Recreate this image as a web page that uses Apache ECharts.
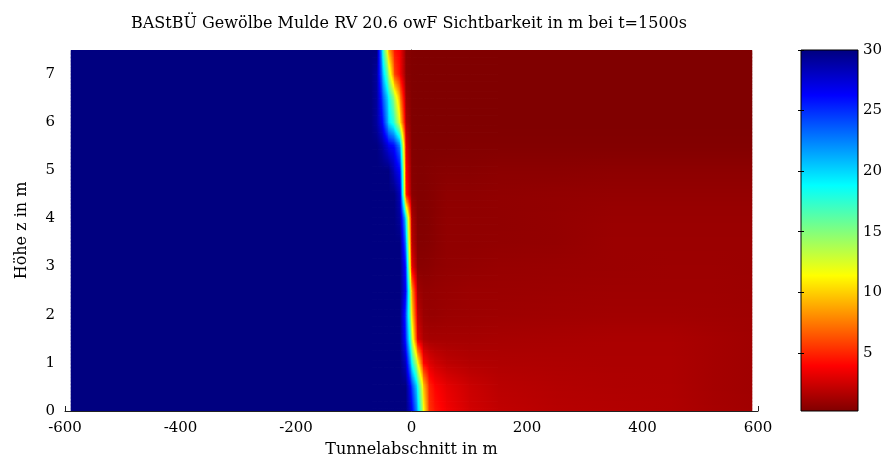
<!DOCTYPE html>
<html><head><meta charset="utf-8">
<script src="https://cdn.jsdelivr.net/npm/echarts@6/dist/echarts.min.js"></script>
<style>html,body{margin:0;padding:0;background:#fff}#c{width:888px;height:464px}</style>
</head><body><div id="c"></div>
<script>
// Tunnel position (m) of each data column
const xPositions = [-590, -70, -60, -50, -40, -30, -20, -10, 0, 10, 20, 30, 40, 60, 100, 150, 250, 350, 450, 520, 590];
// Height (m) of each data row
const zLevels = [0, 0.5, 1, 1.5, 2, 2.5, 3, 3.5, 4, 4.5, 5, 5.5, 6, 6.5, 7, 7.5];
// Visibility (m) per row, one value per column
const sicht_z0_0 = [30,30,30,30,30,30,30,30,27,21,12,5.5,4.5,3.6,2.6,2.1,1.8,1.7,1.6,1.35,1.2];
const sicht_z0_5 = [30,30,30,30,30,30,30,30,25,19,10,5,4,3.2,2.4,1.9,1.7,1.6,1.55,1.3,1.15];
const sicht_z1_0 = [30,30,30,30,30,30,30,28,19,12,4,3,2.5,2.0,1.7,1.6,1.55,1.5,1.5,1.3,1.15];
const sicht_z1_5 = [30,30,30,30,30,30,30,25,14,3,1.5,1.3,1.3,1.3,1.3,1.35,1.4,1.45,1.45,1.3,1.15];
const sicht_z2_0 = [30,30,30,30,30,30,30,24,11,2,1,0.9,0.9,1.0,1.05,1.1,1.15,1.2,1.2,1.15,1.1];
const sicht_z2_5 = [30,30,30,30,30,30,30,26,9,1.2,0.8,0.8,0.85,0.9,1.0,1.0,1.05,1.1,1.1,1.1,1.05];
const sicht_z3_0 = [30,30,30,30,30,30,30,25,3.5,0.5,0.5,0.55,0.65,0.75,0.8,0.9,0.95,1.0,1.05,1.05,1.0];
const sicht_z3_5 = [30,30,30,30,30,30,30,22,2,0.35,0.35,0.4,0.5,0.7,0.7,0.75,0.8,1.0,1.0,1.0,1.0];
const sicht_z4_0 = [30,30,30,30,30,30,29,19,1.5,0.3,0.3,0.35,0.5,0.7,0.7,0.7,0.8,0.95,0.95,0.95,0.95];
const sicht_z4_5 = [30,30,30,30,30,30,28,5,0.5,0.3,0.3,0.35,0.45,0.65,0.65,0.7,0.75,0.8,0.8,0.8,0.8];
const sicht_z5_0 = [30,30,30,30,30,28,26,4,0.4,0.3,0.3,0.35,0.4,0.45,0.45,0.55,0.55,0.6,0.6,0.6,0.6];
const sicht_z5_5 = [30,30,30,29,27,26,22,3,0.3,0.25,0.25,0.25,0.25,0.25,0.3,0.3,0.3,0.3,0.3,0.3,0.3];
const sicht_z6_0 = [30,30,29,26,20,17,11,1.5,0.25,0.2,0.2,0.2,0.2,0.2,0.2,0.2,0.2,0.2,0.2,0.2,0.2];
const sicht_z6_5 = [30,30,29,24,19,14,8,1,0.25,0.2,0.2,0.2,0.2,0.2,0.2,0.2,0.2,0.2,0.2,0.2,0.2];
const sicht_z7_0 = [30,30,29,21,14,6,3.8,0.5,0.25,0.2,0.2,0.2,0.2,0.2,0.2,0.2,0.2,0.2,0.2,0.2,0.2];
const sicht_z7_5 = [30,30,30,18,9,4.5,3.6,0.5,0.25,0.2,0.2,0.2,0.2,0.2,0.2,0.2,0.2,0.2,0.2,0.2,0.2];
const visibilityRows = [sicht_z0_0, sicht_z0_5, sicht_z1_0, sicht_z1_5, sicht_z2_0, sicht_z2_5, sicht_z3_0, sicht_z3_5,
  sicht_z4_0, sicht_z4_5, sicht_z5_0, sicht_z5_5, sicht_z6_0, sicht_z6_5, sicht_z7_0, sicht_z7_5];
// Colour range and tick labels
const colorRange = [0.2, 30];
const colorbarTicks = [5, 10, 15, 20, 25, 30];
const yTicks = [0, 1, 2, 3, 4, 5, 6, 7];
const titleText = 'BAStBÜ Gewölbe Mulde RV 20.6 owF Sichtbarkeit in m bei t=1500s';

const FONT = 'DejaVu Serif';
const JET_BREAKS = [0, 0.125, 0.375, 0.625, 0.875, 1];
function clamp01(a) { return a < 0 ? 0 : (a > 1 ? 1 : a); }
function jet(t) {
  const r = clamp01(Math.min(4 * t - 1.5, -4 * t + 4.5));
  const g = clamp01(Math.min(4 * t - 0.5, -4 * t + 3.5));
  const b = clamp01(Math.min(4 * t + 0.5, -4 * t + 2.5));
  return 'rgb(' + Math.round(r * 255) + ',' + Math.round(g * 255) + ',' + Math.round(b * 255) + ')';
}
// high visibility = dark blue, low visibility = dark red
function tOf(v) { return clamp01(1 - (v - colorRange[0]) / (colorRange[1] - colorRange[0])); }

const cells = [];
for (let j = 0; j < zLevels.length - 1; j++) {
  for (let i = 0; i < xPositions.length - 1; i++) {
    cells.push([xPositions[i], zLevels[j], xPositions[i + 1], zLevels[j + 1],
      visibilityRows[j][i], visibilityRows[j][i + 1], visibilityRows[j + 1][i], visibilityRows[j + 1][i + 1]]);
  }
}

function gradientStops(vL, vR) {
  const tL = tOf(vL), tR = tOf(vR);
  const offs = [0, 1];
  if (Math.abs(tR - tL) > 1e-9) {
    for (const bp of JET_BREAKS) {
      const f = (bp - tL) / (tR - tL);
      if (f > 0 && f < 1) offs.push(f);
    }
  }
  offs.sort((a, b) => a - b);
  return offs.map(f => ({ offset: f, color: jet(tL + (tR - tL) * f) }));
}

function renderCell(params, api) {
  const x0 = api.value(0), z0 = api.value(1), x1 = api.value(2), z1 = api.value(3);
  const v00 = api.value(4), v10 = api.value(5), v01 = api.value(6), v11 = api.value(7);
  const pA = api.coord([x0, z0]);
  const pB = api.coord([x1, z1]);
  const left = pA[0], right = pB[0], bottom = pA[1], top = pB[1];
  const h = bottom - top;
  const n = Math.max(1, Math.ceil(h / 1.5));
  const children = [];
  const extraW = x1 < 590 ? 1 : 0;
  for (let s = 0; s < n; s++) {
    const yT = top + h * s / n;
    const yB = top + h * (s + 1) / n;
    const fz = 1 - (s + 0.5) / n;
    const vL = v00 * (1 - fz) + v01 * fz;
    const vR = v10 * (1 - fz) + v11 * fz;
    const extraH = (z0 === 0 && s === n - 1) ? 0 : 0.8;
    children.push({
      type: 'rect',
      shape: { x: left, y: yT, width: right - left + extraW, height: yB - yT + extraH },
      style: { fill: { type: 'linear', x: 0, y: 0, x2: 1, y2: 0, colorStops: gradientStops(vL, vR) } },
      silent: true
    });
  }
  return { type: 'group', children: children };
}

function renderColorbar(params, api) {
  const pTop = api.coord([0, api.value(1)]);
  const pBot = api.coord([1, api.value(0)]);
  const stops = JET_BREAKS.map(t => ({ offset: t, color: jet(t) }));
  return {
    type: 'group',
    children: [
      { type: 'rect', shape: { x: pTop[0], y: pTop[1], width: pBot[0] - pTop[0], height: pBot[1] - pTop[1] },
        style: { fill: { type: 'linear', x: 0, y: 0, x2: 0, y2: 1, colorStops: stops } } },
      { type: 'rect', shape: { x: pTop[0], y: pTop[1], width: pBot[0] - pTop[0], height: pBot[1] - pTop[1] },
        style: { fill: 'none', stroke: '#000', lineWidth: 1 }, z2: 10 }
    ]
  };
}

const axisColor = '#222';
const labelStyle = { color: '#000', fontFamily: FONT, fontSize: 15 };
const nameStyle = { color: '#000', fontFamily: FONT, fontSize: 16 };
const chart = echarts.init(document.getElementById('c'), null, { renderer: 'canvas' });
chart.setOption({
  animation: false,
  backgroundColor: '#fff',
  title: {
    text: titleText, left: 404, top: 11, textAlign: 'center',
    textStyle: { color: '#000', fontFamily: FONT, fontSize: 16, fontWeight: 'normal' }
  },
  grid: [
    { left: 65, right: 130, top: 50, bottom: 53 },
    { left: 801, width: 57, top: 50, bottom: 53 }
  ],
  xAxis: [
    { gridIndex: 0, type: 'value', min: -600, max: 600, interval: 200,
      name: 'Tunnelabschnitt in m', nameLocation: 'middle', nameGap: 31,
      nameTextStyle: nameStyle,
      axisLine: { show: true, lineStyle: { color: axisColor, width: 1 } },
      axisTick: { show: true, inside: true, length: 5, lineStyle: { color: axisColor } },
      axisLabel: Object.assign({ margin: 10 }, labelStyle),
      splitLine: { show: false } },
    { gridIndex: 1, type: 'value', min: 0, max: 1, show: false }
  ],
  yAxis: [
    { gridIndex: 0, type: 'value', min: 0, max: 7.5,
      name: 'Höhe z in m', nameLocation: 'middle', nameGap: 35, nameRotate: 90,
      nameTextStyle: nameStyle,
      axisLine: { show: true, lineStyle: { color: axisColor, width: 1 } },
      axisTick: { show: true, inside: true, length: 5, customValues: yTicks, lineStyle: { color: axisColor } },
      axisLabel: Object.assign({ margin: 10, customValues: yTicks }, labelStyle),
      splitLine: { show: false } },
    { gridIndex: 1, type: 'value', min: colorRange[0], max: colorRange[1], position: 'right', z: 5,
      axisLine: { show: false },
      axisTick: { show: true, inside: true, length: 3, customValues: colorbarTicks, lineStyle: { color: '#000' } },
      axisLabel: Object.assign({ margin: 5, customValues: colorbarTicks }, labelStyle),
      splitLine: { show: false } },
    { gridIndex: 1, type: 'value', min: colorRange[0], max: colorRange[1], position: 'left', z: 5,
      axisLine: { show: false },
      axisTick: { show: true, inside: true, length: 3, customValues: colorbarTicks, lineStyle: { color: '#000' } },
      axisLabel: { show: false },
      splitLine: { show: false } }
  ],
  series: [
    { type: 'custom', xAxisIndex: 0, yAxisIndex: 0, renderItem: renderCell, data: cells,
      clip: true, silent: true, z: 2,
      encode: { x: [0, 2], y: [1, 3] } },
    { type: 'custom', xAxisIndex: 1, yAxisIndex: 1, renderItem: renderColorbar,
      data: [[colorRange[0], colorRange[1]]], silent: true, z: 2,
      encode: { y: [0, 1] } }
  ]
});
</script></body></html>
